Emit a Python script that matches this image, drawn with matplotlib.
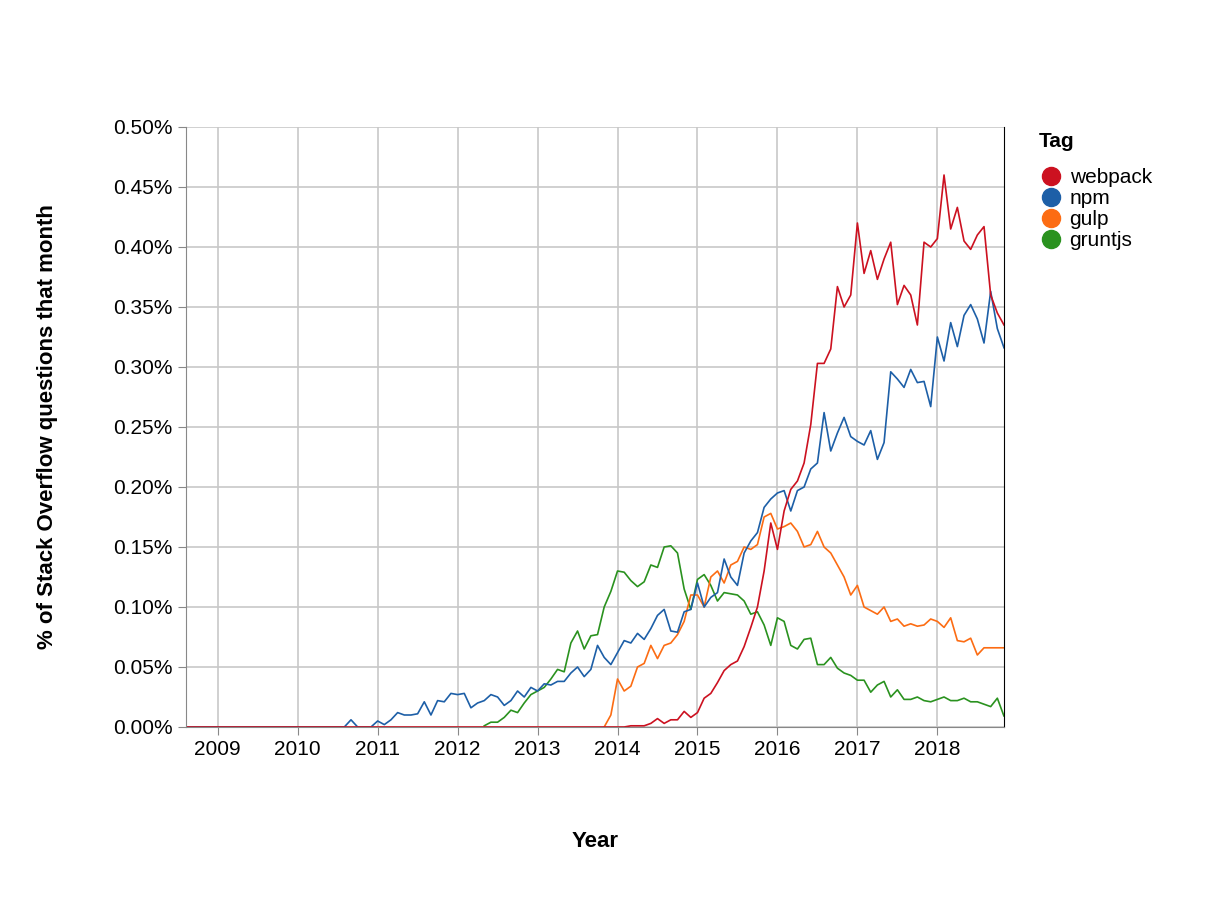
import matplotlib
matplotlib.use("Agg")
import matplotlib.pyplot as plt
import numpy as np
from matplotlib.lines import Line2D
from matplotlib.ticker import FuncFormatter

plt.rcParams["font.family"] = ["Liberation Sans", "DejaVu Sans"]

# monthly share of questions (%), each series listed from its first month
webpack_start = 2008 + 7 / 12  # Aug 2008
webpack = [0.0] * 65 + [
    0, 0, 0.001, 0.001, 0.001, 0.003, 0.007, 0.003, 0.006, 0.006, 0.013, 0.008,
    0.012, 0.024, 0.028, 0.037, 0.047, 0.052, 0.055, 0.067, 0.083, 0.100, 0.130, 0.170,
    0.148, 0.180, 0.198, 0.205, 0.220, 0.252, 0.303, 0.303, 0.315, 0.367, 0.350, 0.360,
    0.420, 0.378, 0.397, 0.373, 0.390, 0.404, 0.352, 0.368, 0.360, 0.335, 0.404, 0.400,
    0.407, 0.460, 0.415, 0.433, 0.405, 0.398, 0.410, 0.417, 0.360, 0.345, 0.335,
]

npm_start = 2008 + 7 / 12
npm = [0.0] * 17 + [0, 0, 0, 0, 0, 0, 0, 0, 0.006, 0, 0, 0] + [
    0.005, 0.002, 0.006, 0.012, 0.010, 0.010, 0.011, 0.021, 0.010, 0.022, 0.021, 0.028,
    0.027, 0.028, 0.016, 0.020, 0.022, 0.027, 0.025, 0.018, 0.022, 0.030, 0.025, 0.033,
    0.030, 0.036, 0.035, 0.038, 0.038, 0.045, 0.050, 0.042, 0.048, 0.068, 0.058, 0.052,
    0.062, 0.072, 0.070, 0.078, 0.073, 0.082, 0.093, 0.098, 0.080, 0.079, 0.096, 0.098,
    0.120, 0.100, 0.108, 0.112, 0.140, 0.125, 0.118, 0.145, 0.155, 0.162, 0.183, 0.190,
    0.195, 0.197, 0.180, 0.197, 0.200, 0.215, 0.220, 0.262, 0.230, 0.245, 0.258, 0.242,
    0.238, 0.235, 0.247, 0.223, 0.237, 0.296, 0.290, 0.283, 0.298, 0.287, 0.288, 0.267,
    0.325, 0.305, 0.337, 0.317, 0.343, 0.352, 0.340, 0.320, 0.363, 0.332, 0.316,
]

gulp_start = 2013 + 10 / 12  # Nov 2013
gulp = [
    0, 0.010,
    0.040, 0.030, 0.034, 0.050, 0.053, 0.068, 0.057, 0.068, 0.070, 0.077, 0.088, 0.110,
    0.110, 0.100, 0.125, 0.130, 0.120, 0.135, 0.138, 0.150, 0.148, 0.152, 0.175, 0.178,
    0.165, 0.167, 0.170, 0.163, 0.150, 0.152, 0.163, 0.150, 0.145, 0.135, 0.125, 0.110,
    0.118, 0.100, 0.097, 0.094, 0.100, 0.088, 0.090, 0.084, 0.086, 0.084, 0.085, 0.090,
    0.088, 0.083, 0.091, 0.072, 0.071, 0.074, 0.060, 0.066, 0.066, 0.066, 0.066,
]

gruntjs_start = 2012 + 4 / 12  # May 2012
gruntjs = [
    0.001, 0.004, 0.004, 0.008, 0.014, 0.012, 0.020, 0.027,
    0.030, 0.033, 0.040, 0.048, 0.046, 0.070, 0.080, 0.065, 0.076, 0.077, 0.100, 0.113,
    0.130, 0.129, 0.122, 0.117, 0.121, 0.135, 0.133, 0.150, 0.151, 0.145, 0.115, 0.098,
    0.123, 0.127, 0.118, 0.105, 0.112, 0.111, 0.110, 0.105, 0.094, 0.096, 0.085, 0.068,
    0.091, 0.088, 0.068, 0.065, 0.073, 0.074, 0.052, 0.052, 0.058, 0.049, 0.045, 0.043,
    0.039, 0.039, 0.029, 0.035, 0.038, 0.025, 0.031, 0.023, 0.023, 0.025, 0.022, 0.021,
    0.023, 0.025, 0.022, 0.022, 0.024, 0.021, 0.021, 0.019, 0.017, 0.024, 0.009, 0.010,
]

series = [
    ("gruntjs", gruntjs_start, gruntjs, "#2a921f"),
    ("gulp", gulp_start, gulp, "#fc6c13"),
    ("npm", npm_start, npm, "#1d5fa7"),
    ("webpack", webpack_start, webpack, "#cc1120"),
]
legend_order = ["webpack", "npm", "gulp", "gruntjs"]

fig = plt.figure(figsize=(12.24, 9.06), dpi=100)
ax = fig.add_axes([186 / 1224, 179 / 906, 818 / 1224, 600 / 906])

colors = {}
for name, start, vals, color in series:
    x = start + np.arange(len(vals)) / 12
    ax.plot(x, vals, color=color, linewidth=1.2)
    colors[name] = color

ax.set_xlim(2008 + 7 / 12 + 0.02, 2018 + 10 / 12)
ax.set_ylim(0, 0.5)
ax.set_xticks(range(2009, 2019))
ax.set_yticks(np.arange(0, 0.501, 0.05))
ax.yaxis.set_major_formatter(FuncFormatter(lambda v, _: f"{v:.2f}%"))
ax.grid(color="#c8c8c8", linewidth=1.2)
ax.set_axisbelow(True)
ax.spines["top"].set_visible(False)
ax.spines["left"].set_color("#888888")
ax.spines["bottom"].set_color("#888888")
ax.spines["right"].set_color("black")
ax.tick_params(labelsize=15, color="#888888", length=6)

ax.set_xlabel("Year", fontsize=16, fontweight="bold", labelpad=52)
ax.set_ylabel("% of Stack Overflow questions that month", fontsize=16, fontweight="bold", labelpad=40)

handles = [Line2D([], [], marker="o", linestyle="", markersize=13, color=colors[n]) for n in legend_order]
leg = fig.legend(handles, legend_order, loc="upper left", bbox_to_anchor=(1030 / 1224, 1 - 124 / 906),
                 frameon=False, title="Tag", fontsize=15, handletextpad=0.3, labelspacing=0.1,
                 borderaxespad=0, handlelength=1.2)
leg.get_title().set_fontweight("bold")
leg.get_title().set_fontsize(15)
leg._legend_box.align = "left"
leg._legend_box.sep = 12

fig.savefig("out.png", dpi=100)
